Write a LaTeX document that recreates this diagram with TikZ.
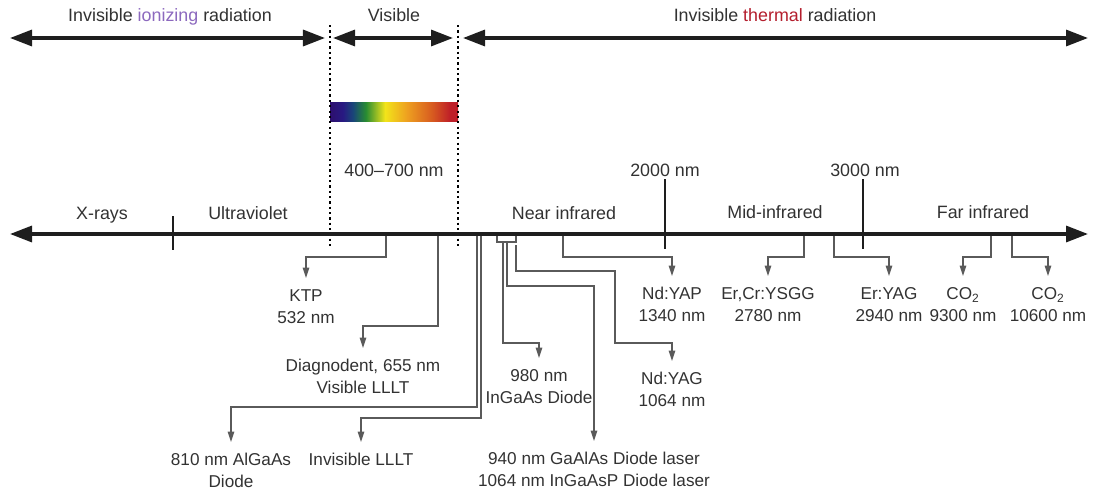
\documentclass[tikz,border=0pt]{standalone}
\usepackage{fontspec}
\setmainfont{Liberation Sans}
\usetikzlibrary{arrows.meta, positioning}
\definecolor{specText}{RGB}{50, 50, 50}
\definecolor{specIon}{RGB}{140, 105, 190}
\definecolor{specHeat}{RGB}{180, 30, 45}
\definecolor{specLine}{RGB}{30, 30, 30}
\definecolor{specLead}{RGB}{90, 90, 90}
\definecolor{bandA}{RGB}{45, 15, 110}
\definecolor{bandB}{RGB}{40, 25, 130}
\definecolor{bandC}{RGB}{25, 70, 120}
\definecolor{bandD}{RGB}{40, 140, 50}
\definecolor{bandE}{RGB}{242, 228, 26}
\definecolor{bandF}{RGB}{238, 160, 32}
\definecolor{bandG}{RGB}{215, 90, 32}
\definecolor{bandH}{RGB}{190, 30, 40}
\pgfdeclarehorizontalshading{visband}{100bp}{color(0bp)=(bandA); color(25bp)=(bandA); color(30bp)=(bandB); color(34bp)=(bandC); color(39bp)=(bandD); color(46.5bp)=(bandE); color(55bp)=(bandF); color(65bp)=(bandG); color(72bp)=(bandH); color(75bp)=(bandH); color(100bp)=(bandH)}
\tikzset{
  bigaxis/.style={line width=2.3pt, specLine, {Triangle[length=5.5mm, width=4mm]}-{Triangle[length=5.5mm, width=4mm]}},
  lead/.style={-{Triangle[length=2.6mm, width=1.6mm]}, line width=1pt, specLead},
  leadline/.style={line width=1pt, specLead},
  laser/.style={anchor=north, align=center, inner xsep=1pt, inner ysep=8pt, font=\fontsize{12.2pt}{15.5pt}\selectfont, text=specText},
  band/.style={anchor=base, inner sep=2pt, font=\fontsize{12.7pt}{15.5pt}\selectfont, text=specText},
  bound/.style={black, line width=1.3pt, dash pattern=on 1.6pt off 2.2pt},
  tickmark/.style={line width=1.6pt, specLine},
}

\begin{document}
\begin{tikzpicture}[x=0.025cm, y=-0.025cm]
  \useasboundingbox (0,0) rectangle (1096,494);

  % Radiation classes
  \node[band] (ionize) at (170,21) {Invisible \textcolor{specIon}{ionizing} radiation};
  \node[band] (visible) at (394,21) {Visible};
  \node[band] (thermal) at (775,21) {Invisible \textcolor{specHeat}{thermal} radiation};
  \coordinate (ionL) at (10,38);
  \coordinate (ionR) at (325,38);
  \coordinate (visL) at (333,38);
  \coordinate (visR) at (453,38);
  \coordinate (heatL) at (463,38);
  \coordinate (heatR) at (1088,38);
  \draw[bigaxis] (ionL) -- (ionR);
  \draw[bigaxis] (visL) -- (visR);
  \draw[bigaxis] (heatL) -- (heatR);

  % Visible band
  \fill[shading=visband] (330,102) rectangle (458,121);
  \coordinate (violetTop) at (330,25);
  \coordinate (violetBot) at (330,247);
  \coordinate (redTop) at (458,25);
  \coordinate (redBot) at (458,247);
  \draw[bound] (violetTop) -- (violetBot);
  \draw[bound] (redTop) -- (redBot);
  \node[band] (visrange) at (394,176) {400–700 nm};

  % Wavelength axis
  \coordinate (axL) at (10,234);
  \coordinate (axR) at (1088,234);
  \node[band] (xray) at (102,219) {X-rays};
  \node[band] (uv) at (248,219) {Ultraviolet};
  \node[band] (nir) at (564,219) {Near infrared};
  \node[band] (mir) at (775,218) {Mid-infrared};
  \node[band] (fir) at (983,218) {Far infrared};
  \node[band] (nm2000) at (665,176) {2000 nm};
  \node[band] (nm3000) at (865,176) {3000 nm};

  % Laser labels
  \node[laser] (ktp) at (306,278) {KTP\\532 nm};
  \node[laser] (diagno) at (363,348) {Diagnodent, 655 nm\\Visible LLLT};
  \node[laser] (algaas) at (231,442) {810 nm AlGaAs\\Diode};
  \node[laser] (lllt) at (361,442) {Invisible LLLT};
  \node[laser] (ingaas) at (539,358) {980 nm\\InGaAs Diode};
  \node[laser] (gaalas) at (594,441) {940 nm GaAlAs Diode laser\\1064 nm InGaAsP Diode laser};
  \node[laser] (ndyag) at (672,361) {Nd:YAG\\1064 nm};
  \node[laser] (ndyap) at (672,276) {Nd:YAP\\1340 nm};
  \node[laser] (ercr) at (768,276) {Er,Cr:YSGG\\2780 nm};
  \node[laser] (eryag) at (889,276) {Er:YAG\\2940 nm};
  \node[laser] (coA) at (963,276) {CO\textsubscript{2}\\9300 nm};
  \node[laser] (coB) at (1048,276) {CO\textsubscript{2}\\10600 nm};

  % Points on the axis
  \coordinate (srcKTP) at (386,234);
  \coordinate (srcDiag) at (438,234);
  \coordinate (srcAlGaAs) at (477,234);
  \coordinate (srcLLLT) at (481,234);
  \coordinate (brkL) at (497,234);
  \coordinate (brkR) at (516,234);
  \coordinate (srcInGaAs) at (503,242);
  \coordinate (srcGaAlAs) at (507,242);
  \coordinate (srcNdYAG) at (516,245);
  \coordinate (srcNdYAP) at (563,234);
  \coordinate (srcErCr) at (804,234);
  \coordinate (srcErYAG) at (834,234);
  \coordinate (srcCoA) at (991,234);
  \coordinate (srcCoB) at (1012,234);

  % Leads
  \draw[lead] (srcKTP) -- ++(0,23) -| (ktp.north);
  \draw[lead] (srcDiag) -- ++(0,92) -| (diagno.north);
  \draw[lead] (srcAlGaAs) -- ++(0,173) -| (algaas.north);
  \draw[lead] (srcLLLT) -- ++(0,184) -| (lllt.north);
  \draw[leadline] (brkL) -- ++(0,8) -| (brkR);
  \draw[lead] (srcInGaAs) -- ++(0,101) -| (ingaas.north);
  \draw[lead] (srcGaAlAs) -- ++(0,44) -| (gaalas.north);
  \draw[lead] (srcNdYAG) -- ++(0,26) -- ++(99,0) -- ++(0,72) -| (ndyag.north);
  \draw[lead] (srcNdYAP) -- ++(0,23) -| (ndyap.north);
  \draw[lead] (srcErCr) -- ++(0,23) -| (ercr.north);
  \draw[lead] (srcErYAG) -- ++(0,23) -| (eryag.north);
  \draw[lead] (srcCoA) -- ++(0,23) -| (coA.north);
  \draw[lead] (srcCoB) -- ++(0,23) -| (coB.north);

  % Axis and ticks on top
  \draw[bigaxis] (axL) -- (axR);
  \draw[tickmark] (173,216) -- (173,250);
  \draw[tickmark] (nm2000.south) -- (665,249);
  \draw[tickmark] (nm3000.south -| 863,0) -- (863,249);
\end{tikzpicture}
\end{document}
